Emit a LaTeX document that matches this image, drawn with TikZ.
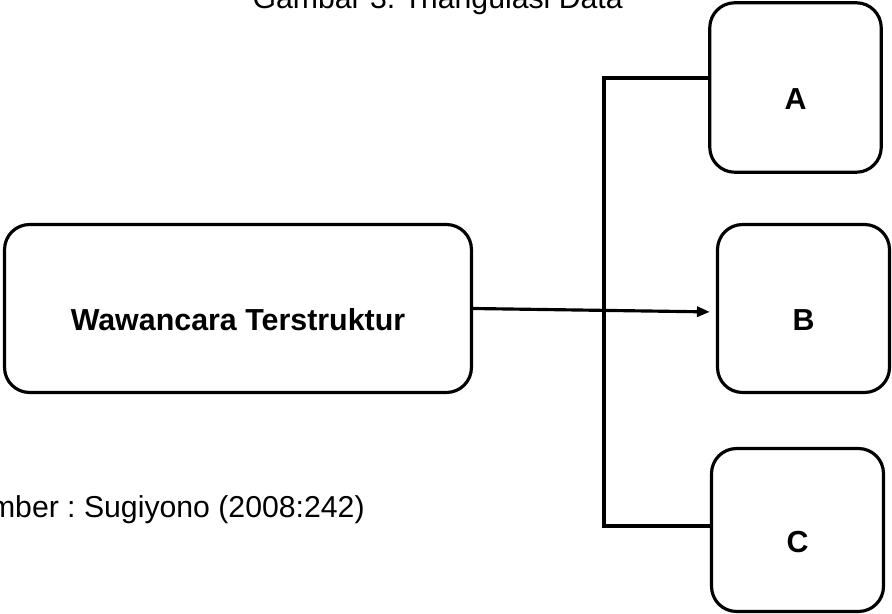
\documentclass[tikz,border=0pt]{standalone}
\usepackage{fontspec}
\setmainfont{Liberation Sans}
\usetikzlibrary{arrows.meta, positioning, calc}
\frenchspacing

\begin{document}
\begin{tikzpicture}[
    x=0.02cm, y=-0.02cm,
    rbox/.style={rectangle, rounded corners=0.5cm, draw=black, line width=1.8pt,
                 font=\fontsize{17.3}{20}\selectfont\bfseries, align=center,
                 text height=0.9cm, text depth=0pt},
    conn/.style={line width=1.8pt},
    arr/.style={-{Triangle[length=0.26cm, width=0.2cm]}, line width=1.8pt},
    lbl/.style={font=\fontsize{17.2}{20}\selectfont, inner sep=0pt},
]
\useasboundingbox (0,0) rectangle (892,614);
\clip (0,0) rectangle (892,614);

\node[lbl, anchor=base east] (cap) at (623,9) {Gambar 3. Triangulasi Data};
\node[lbl, anchor=base east] (src) at (365,517) {Sumber : Sugiyono (2008:242)};

\node[rbox, minimum width=9.34cm, minimum height=3.36cm] (wt) at (238,308.5) {Wawancara Terstruktur};
\node[rbox, minimum width=3.43cm, minimum height=3.39cm] (ba) at (795.5,87.5) {A};
\node[rbox, minimum width=3.44cm, minimum height=3.36cm] (bb) at (803.5,308.5) {B};
\node[rbox, minimum width=3.44cm, minimum height=3.26cm] (bc) at (797.5,530) {C};

\coordinate (ja) at (604,78);
\coordinate (jc) at (604,526);

\draw[conn] (ba.west |- ja) -- (ja) -- (jc) -- (bc.west |- jc);
\draw[arr, shorten >=0.12cm] (wt.east) -- ($(bb.west)+(0,3.5)$);

\end{tikzpicture}
\end{document}
